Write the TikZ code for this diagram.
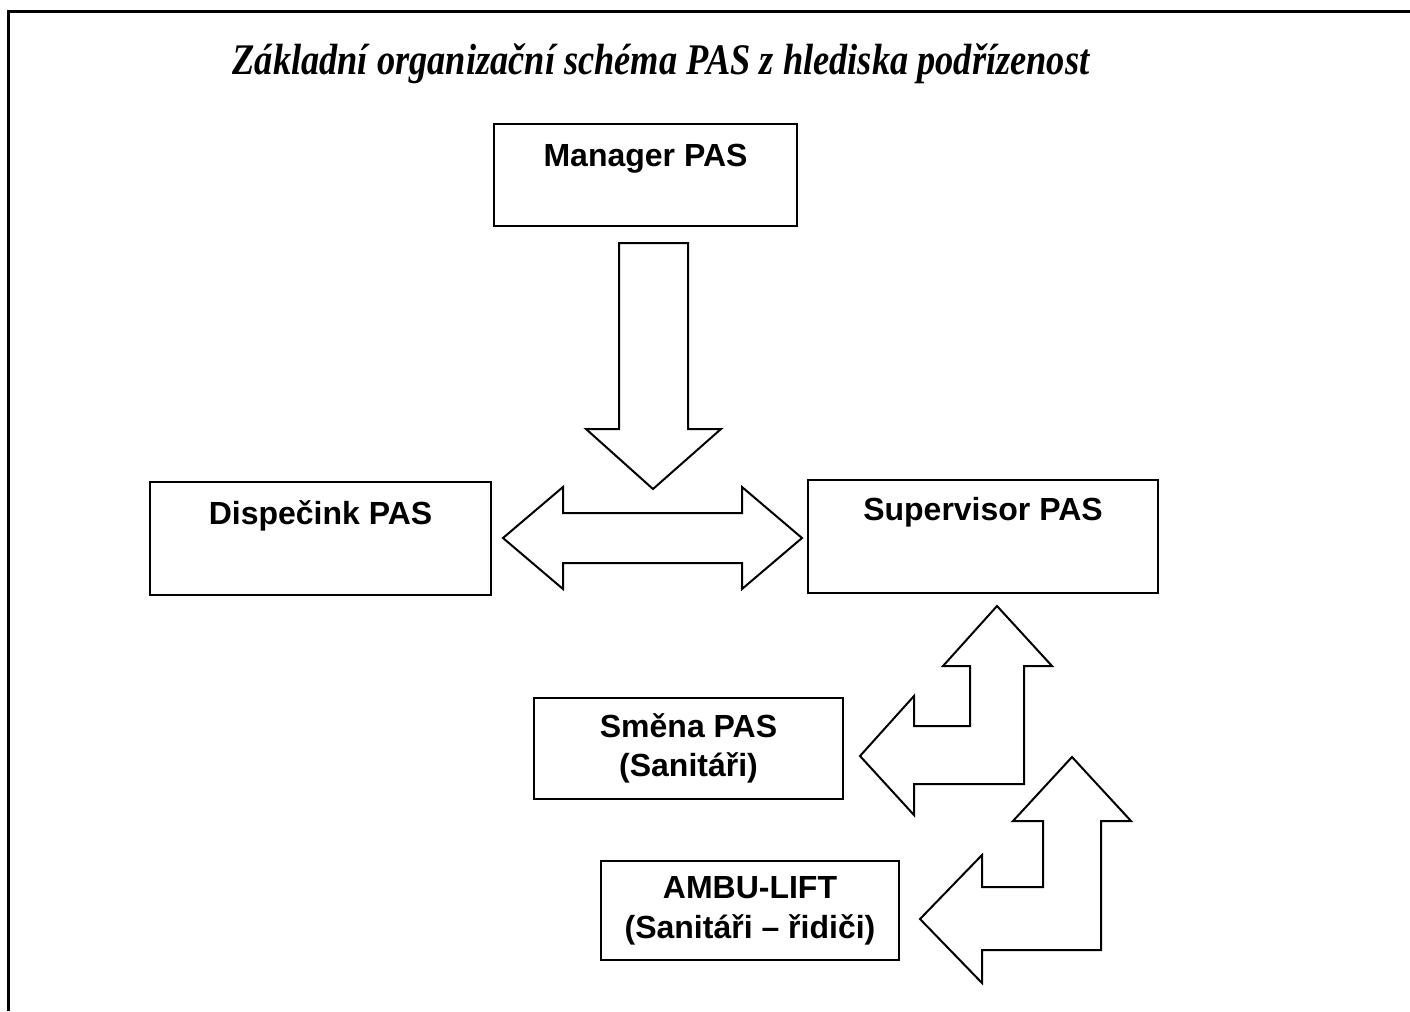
\documentclass[tikz,border=0pt]{standalone}
\usepackage{fontspec}
\setmainfont{Liberation Serif}
\setsansfont{Liberation Sans}
\newcommand{\px}{0.75pt}
\begin{document}
\begin{tikzpicture}[x=0.75pt,y=-0.75pt,
    box/.style={draw,line width=1.5pt,inner sep=0pt,align=center,
        font=\sffamily\bfseries\fontsize{24}{29.25}\selectfont},
    toptext/.style={text height=23*\px,text depth=#1*\px},
    blockarrow/.style={draw,line width=1.5pt,fill=white,line join=miter}]
    \useasboundingbox (0,0) rectangle (1410,1011);
    % frame
    \draw [line width=2.25pt] (1410,11) -- (8,11) -- (8,1011);
    \node (title) [yscale=1.2] at (661,64) {\fontsize{27.3}{32}\selectfont\bfseries\itshape Základní organizační schéma PAS z hlediska podřízenost};
    % boxes
    \node (manager) [box,toptext=40,minimum width=303*\px,minimum height=102*\px] at (645.5,175) {Manager PAS};
    \node (dispecink) [box,toptext=52,minimum width=341*\px,minimum height=113*\px] at (320.5,538.5) {Dispečink PAS};
    \node (supervisor) [box,toptext=56,minimum width=350*\px,minimum height=113*\px] at (983,536.5) {Supervisor PAS};
    \node (smena) [box,minimum width=309*\px,minimum height=101*\px] at (688.5,748.5) {Směna PAS\\(Sanitáři)};
    \node (ambu) [box,minimum width=298*\px,minimum height=99*\px] at (750,910.5) {AMBU-LIFT\\[1pt](Sanitáři – řidiči)};
    % arrows
    \coordinate (D) at (653,489);
    \draw [blockarrow] (D) --++(-67,-60) --++(33,0) --++(0,-186) --++(69,0) --++(0,186) --++(33,0) -- cycle;
    \coordinate (H) at (503,538);
    \draw [blockarrow] (H) --++(60,-51) --++(0,26) --++(179,0) --++(0,-26) --++(60,51)
        --++(-60,51) --++(0,-26) --++(-179,0) --++(0,26) -- cycle;
    \coordinate (B1) at (997,606);
    \draw [blockarrow] (B1) --++(55,60) --++(-28,0) --++(0,118) --++(-110,0) --++(0,31) --++(-54,-59)
        --++(54,-60) --++(0,30) --++(56,0) --++(0,-60) --++(-27,0) -- cycle;
    \coordinate (B2) at (1072,757);
    \draw [blockarrow] (B2) --++(59,64) --++(-30,0) --++(0,129) --++(-119,0) --++(0,33) --++(-62,-64)
        --++(62,-64) --++(0,32) --++(61,0) --++(0,-66) --++(-30,0) -- cycle;
\end{tikzpicture}
\end{document}
